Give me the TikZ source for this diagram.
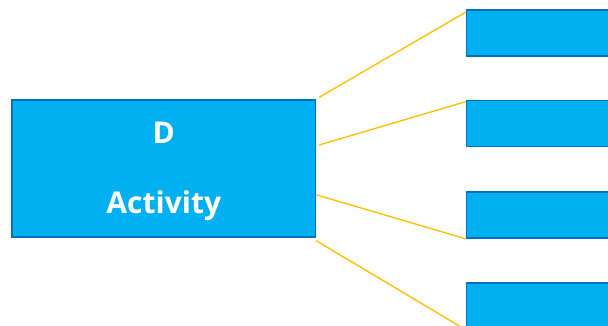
\documentclass[tikz,border=0pt]{standalone}
\usepackage{fontspec}
\setmainfont{Open Sans}
\usetikzlibrary{calc}
\definecolor{boxfill}{HTML}{00B0F0}
\definecolor{boxline}{HTML}{0070C0}
\definecolor{link}{HTML}{FFC000}

\begin{document}
\begin{tikzpicture}[
    x=1pt, y=-1pt,
    blk/.style={draw=boxline, fill=boxfill, line width=1.6pt, inner sep=0pt},
    sub/.style={blk, minimum width=154pt, minimum height=46pt},
    txt/.style={align=center, text=white, font=\fontsize{30}{36}\selectfont\bfseries},
    wire/.style={draw=link, line width=1.4pt}
]
\useasboundingbox (0,0) rectangle (608,326);
\clip (0,0) rectangle (608,326);
\node[blk, minimum width=303.5pt, minimum height=137pt] (act) at (163.8,168.5) {};
\node[txt] (actlbl) at ($(act.center)+(0,3)$) {D\\[34pt]Activity};
\node[sub] (t1) at (543.5,33) {};
\node[sub] (t2) at (543.5,123.5) {};
\node[sub] (t3) at (543.5,215) {};
\node[sub] (t4) at (543.5,306) {};
\draw[wire] ($(act.north east)+(3,-2)$) -- ($(t1.north west)+(0,3)$);
\draw[wire] ($(act.north east)!0.33!(act.south east)+(3,0)$) -- ($(t2.north west)+(0,2)$);
\draw[wire] ($(act.north east)!0.69!(act.south east)$) -- (t3.south west);
\draw[wire] ($(act.south east)+(0,3)$) -- (t4.south west);
\end{tikzpicture}
\end{document}
